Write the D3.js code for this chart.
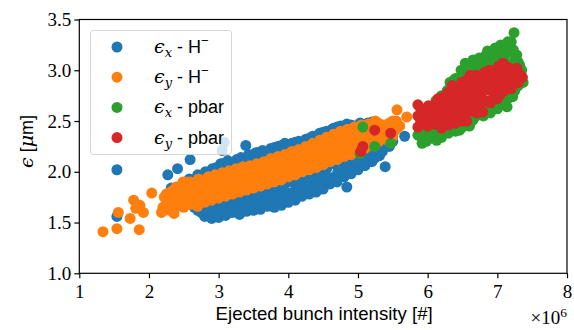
<!DOCTYPE html>
<html>
<head>
<meta charset="utf-8">
<script src="https://cdn.jsdelivr.net/npm/d3@7"></script>
<style>
  html, body { margin: 0; padding: 0; background: #fff; }
  svg { display: block; }
</style>
</head>
<body>
<svg id="chart" width="574" height="330"></svg>
<script>
// Intensity in units of 1e6 particles, emittance in µm.
const xTicks = [1, 2, 3, 4, 5, 6, 7, 8];
const yTicks = [1.0, 1.5, 2.0, 2.5, 3.0, 3.5];
const yTickLabels = ["1.0", "1.5", "2.0", "2.5", "3.0", "3.5"];

// eps_x, H-
const epsXHminus = [
  [1.54,2.02],[1.54,1.56],[2.27,1.97],[2.32,1.84],[2.41,2.03],[2.59,2.12],[3.05,2.21],[3.08,2.29],[3.39,2.26],
  [2.6,1.68],[2.6,1.78],[2.62,1.88],[2.58,1.93],
  [2.65,1.65],[2.65,1.75],[2.66,1.83],[2.64,1.92],
  [2.7,1.62],[2.72,1.72],[2.68,1.85],[2.7,1.97],
  [2.75,1.6],[2.75,1.69],[2.76,1.78],[2.74,1.88],[2.75,1.96],
  [2.8,1.56],[2.78,1.66],[2.82,1.8],[2.79,1.95],[2.81,2.0],
  [2.85,1.58],[2.85,1.68],[2.86,1.77],[2.84,1.86],[2.85,1.96],
  [2.9,1.54],[2.88,1.63],[2.92,1.75],[2.9,1.9],[2.91,2.03],
  [2.95,1.58],[2.95,1.67],[2.96,1.78],[2.94,1.88],[2.95,1.96],[2.96,2.04],
  [3.0,1.55],[3.02,1.62],[2.98,1.72],[3.01,1.85],[2.99,1.98],[3.03,2.08],
  [3.05,1.58],[3.05,1.67],[3.06,1.78],[3.04,1.9],[3.05,2.0],[3.06,2.08],
  [3.1,1.57],[3.12,1.66],[3.09,1.78],[3.11,1.92],[3.1,2.06],[3.13,2.11],
  [3.15,1.6],[3.15,1.72],[3.16,1.84],[3.14,1.98],[3.15,2.08],
  [3.2,1.6],[3.18,1.68],[3.21,1.8],[3.2,1.95],[3.22,2.1],
  [3.25,1.62],[3.25,1.73],[3.26,1.86],[3.24,1.97],[3.25,2.05],[3.26,2.12],
  [3.3,1.58],[3.31,1.66],[3.29,1.76],[3.3,2.0],[3.32,2.14],
  [3.35,1.63],[3.35,1.75],[3.36,1.88],[3.34,2.05],[3.35,2.13],
  [3.4,1.61],[3.42,1.7],[3.39,1.82],[3.41,1.97],[3.43,2.17],
  [3.45,1.64],[3.45,1.76],[3.46,1.9],[3.44,2.02],[3.45,2.11],[3.46,2.16],
  [3.5,1.62],[3.51,1.72],[3.49,1.86],[3.5,2.05],[3.52,2.18],
  [3.55,1.67],[3.55,1.8],[3.56,1.95],[3.54,2.12],[3.55,2.19],
  [3.6,1.63],[3.62,1.75],[3.59,1.88],[3.61,2.1],[3.63,2.21],
  [3.65,1.69],[3.65,1.81],[3.66,1.96],[3.64,2.02],[3.65,2.15],[3.66,2.2],
  [3.7,1.66],[3.71,1.74],[3.69,1.9],[3.7,2.08],[3.72,2.2],
  [3.75,1.7],[3.75,1.84],[3.76,1.98],[3.74,2.16],[3.75,2.23],
  [3.8,1.65],[3.82,1.78],[3.79,1.92],[3.81,2.12],[3.8,2.24],
  [3.85,1.72],[3.85,1.86],[3.86,2.02],[3.84,2.2],[3.85,2.25],
  [3.9,1.67],[3.91,1.8],[3.89,1.95],[3.92,2.15],[3.9,2.26],
  [3.95,1.74],[3.95,1.88],[3.96,2.05],[3.94,2.22],[3.95,2.28],
  [4.0,1.7],[4.02,1.79],[3.99,1.97],[4.01,2.18],[4.03,2.27],
  [4.05,1.76],[4.05,1.9],[4.06,2.08],[4.04,2.23],[4.05,2.28],
  [4.1,1.72],[4.11,1.83],[4.09,2.0],[4.12,2.2],[4.1,2.29],
  [4.15,1.79],[4.15,1.93],[4.16,2.1],[4.14,2.25],[4.15,2.3],
  [4.2,1.76],[4.22,1.86],[4.19,2.02],[4.21,2.22],[4.24,2.3],
  [4.25,1.82],[4.25,1.96],[4.26,2.13],[4.24,2.28],[4.25,2.32],
  [4.3,1.78],[4.31,1.9],[4.29,2.05],[4.32,2.25],[4.3,2.33],
  [4.35,1.84],[4.35,1.98],[4.36,2.15],[4.34,2.3],[4.35,2.35],
  [4.4,1.8],[4.42,1.92],[4.39,2.08],[4.41,2.28],[4.43,2.36],
  [4.45,1.87],[4.45,2.0],[4.46,2.2],[4.44,2.34],[4.45,2.38],
  [4.5,1.83],[4.51,1.95],[4.49,2.12],[4.52,2.31],[4.5,2.39],
  [4.55,1.9],[4.55,2.03],[4.56,2.22],[4.54,2.37],[4.55,2.4],
  [4.6,1.88],[4.62,1.94],[4.59,2.15],[4.61,2.35],[4.63,2.42],
  [4.65,1.94],[4.65,2.08],[4.66,2.26],[4.64,2.4],[4.65,2.43],
  [4.7,1.9],[4.71,2.0],[4.69,2.18],[4.72,2.38],[4.7,2.44],
  [4.75,1.96],[4.75,2.1],[4.76,2.3],[4.74,2.42],[4.75,2.45],
  [4.84,1.85],[4.8,1.95],[4.82,2.02],[4.79,2.2],[4.81,2.4],[4.84,2.47],
  [4.85,2.0],[4.85,2.12],[4.86,2.32],[4.84,2.44],
  [4.9,1.98],[4.91,2.06],[4.89,2.25],[4.92,2.42],[4.9,2.46],
  [4.95,2.04],[4.95,2.16],[4.96,2.36],[4.94,2.45],
  [5.0,2.02],[5.02,2.1],[4.99,2.3],[5.01,2.44],[5.03,2.48],
  [5.05,2.08],[5.05,2.2],[5.06,2.38],[5.04,2.47],
  [5.1,2.06],[5.12,2.15],[5.09,2.35],[5.11,2.46],
  [5.15,2.12],[5.15,2.26],[5.16,2.4],[5.14,2.48],
  [5.2,2.1],[5.19,2.2],[5.21,2.38],[5.2,2.49],
  [5.25,2.14],[5.25,2.3],[5.26,2.45],
  [5.31,2.16],[5.3,2.25],[5.29,2.44],[5.33,2.42],
  [5.35,2.2],[5.35,2.35],[5.36,2.44],
  [5.39,2.05],[5.4,2.3],[5.42,2.42],
  [5.45,2.25],[5.45,2.36],
  [5.5,2.3],[5.52,2.4],[5.67,2.35]
];

// eps_y, H-
const epsYHminus = [
  [1.34,1.41],[1.54,1.44],[1.86,1.43],[1.56,1.6],[1.73,1.54],[1.78,1.72],[1.92,1.6],[1.87,1.67],[1.81,1.64],
  [2.04,1.79],[2.18,1.6],[2.36,1.59],[2.49,1.9],
  [2.2,1.65],[2.22,1.75],[2.25,1.68],[2.25,1.78],
  [2.3,1.62],[2.28,1.7],[2.31,1.8],[2.35,1.65],[2.35,1.72],[2.35,1.82],
  [2.4,1.66],[2.42,1.75],[2.39,1.85],[2.45,1.68],[2.45,1.78],[2.45,1.86],
  [2.5,1.65],[2.52,1.72],[2.49,1.82],[2.51,1.88],[2.55,1.7],[2.55,1.8],[2.55,1.9],
  [2.6,1.68],[2.62,1.78],[2.59,1.9],[2.65,1.7],[2.65,1.8],[2.65,1.88],
  [2.7,1.66],[2.72,1.75],[2.69,1.85],[2.71,1.93],[2.75,1.72],[2.75,1.82],[2.75,1.92],
  [2.8,1.7],[2.82,1.8],[2.79,1.9],[2.85,1.74],[2.85,1.85],[2.85,1.95],
  [2.9,1.72],[2.91,1.82],[2.89,1.94],[2.95,1.77],[2.95,1.88],[2.95,1.97],
  [3.0,1.74],[3.02,1.84],[2.99,1.95],[3.05,1.79],[3.05,1.9],[3.05,1.99],
  [3.1,1.76],[3.11,1.86],[3.09,1.97],[3.15,1.81],[3.15,1.92],[3.15,2.01],
  [3.2,1.78],[3.21,1.88],[3.19,2.0],[3.25,1.83],[3.25,1.94],[3.25,2.03],
  [3.3,1.8],[3.31,1.9],[3.29,2.01],[3.35,1.85],[3.35,1.96],[3.35,2.05],
  [3.4,1.82],[3.41,1.92],[3.39,2.03],[3.45,1.87],[3.45,1.98],[3.45,2.06],
  [3.5,1.84],[3.51,1.94],[3.49,2.05],[3.55,1.89],[3.55,2.0],[3.55,2.08],
  [3.6,1.86],[3.61,1.97],[3.59,2.07],[3.65,1.91],[3.65,2.02],[3.65,2.1],
  [3.7,1.88],[3.71,1.99],[3.69,2.1],[3.75,1.93],[3.75,2.05],[3.75,2.13],
  [3.8,1.9],[3.81,2.01],[3.79,2.12],[3.85,1.95],[3.85,2.07],[3.85,2.15],
  [3.9,1.92],[3.91,2.03],[3.89,2.14],[3.95,1.98],[3.95,2.1],[3.95,2.17],
  [4.0,1.95],[4.01,2.06],[3.99,2.16],[4.05,2.0],[4.05,2.12],[4.05,2.2],
  [4.1,1.97],[4.11,2.08],[4.09,2.19],[4.15,2.02],[4.15,2.14],[4.15,2.22],
  [4.2,2.0],[4.21,2.1],[4.19,2.21],[4.25,2.05],[4.25,2.17],[4.25,2.25],
  [4.3,2.02],[4.31,2.13],[4.29,2.24],[4.35,2.08],[4.35,2.2],[4.35,2.28],
  [4.4,2.04],[4.41,2.15],[4.39,2.27],[4.45,2.1],[4.45,2.22],[4.45,2.31],
  [4.5,2.07],[4.51,2.18],[4.49,2.3],[4.55,2.13],[4.55,2.25],[4.55,2.34],
  [4.6,2.1],[4.61,2.2],[4.59,2.33],[4.65,2.16],[4.65,2.28],[4.65,2.37],
  [4.7,2.12],[4.71,2.24],[4.69,2.36],[4.75,2.18],[4.75,2.3],[4.75,2.4],
  [4.8,2.15],[4.81,2.27],[4.79,2.39],[4.85,2.21],[4.85,2.33],[4.85,2.42],
  [4.9,2.17],[4.91,2.3],[4.89,2.41],[4.95,2.24],[4.95,2.36],[4.95,2.44],
  [5.0,2.2],[5.01,2.32],[4.99,2.43],[5.05,2.27],[5.05,2.38],[5.05,2.46],
  [5.1,2.23],[5.11,2.35],[5.09,2.45],[5.15,2.3],[5.15,2.41],[5.15,2.47],
  [5.2,2.26],[5.21,2.38],[5.19,2.47],[5.25,2.33],[5.25,2.43],[5.25,2.5],
  [5.3,2.3],[5.31,2.4],[5.29,2.48],[5.35,2.36],[5.35,2.46],
  [5.4,2.32],[5.41,2.44],[5.45,2.4],[5.45,2.48],
  [5.5,2.35],[5.49,2.45],[5.55,2.42],[5.55,2.5],
  [5.39,2.44],[5.45,2.32],[5.6,2.45],[5.5,2.5],[5.56,2.61],[5.7,2.54]
];

// eps_x, pbar
const epsXPbar = [
  [5.07,2.44],[5.47,2.28],[5.24,2.25],[5.03,2.18],
  [5.86,2.36],[5.92,2.28],[6.03,2.41],[6.13,2.31],[5.95,2.5],[6.0,2.35],[5.9,2.4],[5.98,2.3],[6.05,2.33],
  [6.1,2.6],[6.12,2.7],[6.2,2.34],[6.22,2.45],[6.2,2.75],[6.1,2.45],[6.15,2.38],[6.18,2.5],[6.15,2.62],[6.05,2.55],
  [6.3,2.38],[6.28,2.8],[6.32,2.88],[6.37,2.9],[6.3,2.6],[6.25,2.4],[6.25,2.7],[6.35,2.45],[6.35,2.8],
  [6.4,2.4],[6.42,2.5],[6.4,2.92],[6.46,2.41],[6.4,2.8],[6.45,2.48],[6.45,2.88],
  [6.5,2.44],[6.52,2.98],[6.48,3.0],[6.54,3.07],[6.5,2.85],[6.55,2.5],[6.55,2.95],
  [6.6,2.45],[6.62,2.55],[6.58,3.02],[6.65,2.51],[6.65,3.1],[6.6,2.9],[6.6,2.7],[6.65,3.0],
  [6.7,2.55],[6.72,3.08],[6.74,3.12],[6.7,2.95],[6.68,2.6],[6.75,2.6],[6.75,3.03],
  [6.8,2.55],[6.82,2.62],[6.78,3.12],[6.84,3.15],[6.89,3.15],[6.8,3.0],[6.8,2.8],[6.85,2.6],[6.85,3.08],[6.86,3.19],
  [6.9,2.58],[6.92,2.65],[6.94,3.18],[6.9,3.05],[6.95,2.62],[6.95,3.12],[6.97,3.22],
  [7.0,2.62],[7.02,2.68],[6.98,3.2],[7.08,3.22],[7.0,3.1],[7.05,2.66],[7.05,3.15],[7.05,3.25],
  [7.1,2.68],[7.12,2.75],[7.1,3.24],[7.14,2.64],[7.1,3.12],[7.15,2.72],[7.15,3.18],[7.15,3.28],
  [7.2,2.74],[7.18,2.85],[7.2,3.2],[7.22,2.74],[7.23,3.2],[7.24,3.37],[7.2,3.05],[7.2,3.28],[7.25,2.8],[7.25,3.1],
  [7.3,2.85],[7.32,3.05],[7.28,3.15],[7.37,2.88],[7.3,2.95],[7.33,2.92],[7.35,3.0],[7.3,3.08]
];

// eps_y, pbar
const epsYPbar = [
  [5.24,2.41],[5.47,2.38],[5.07,2.25],[5.04,2.2],
  [5.86,2.44],[5.86,2.55],[5.86,2.66],[5.95,2.48],[5.95,2.6],[5.9,2.5],[5.9,2.62],
  [6.0,2.45],[6.02,2.55],[6.01,2.65],[6.05,2.5],[6.05,2.6],
  [6.1,2.47],[6.1,2.58],[6.12,2.68],[6.15,2.52],[6.15,2.62],[6.15,2.72],
  [6.2,2.43],[6.2,2.55],[6.21,2.65],[6.19,2.73],[6.25,2.5],[6.25,2.62],[6.25,2.74],
  [6.3,2.46],[6.3,2.6],[6.32,2.7],[6.29,2.78],[6.35,2.85],[6.35,2.55],[6.35,2.66],[6.35,2.76],
  [6.4,2.48],[6.41,2.62],[6.4,2.72],[6.42,2.82],[6.45,2.56],[6.45,2.68],[6.45,2.8],
  [6.5,2.5],[6.5,2.65],[6.52,2.75],[6.49,2.88],[6.55,2.58],[6.55,2.7],[6.55,2.82],[6.55,2.9],
  [6.56,2.5],[6.6,2.6],[6.61,2.7],[6.6,2.8],[6.61,2.95],[6.65,2.62],[6.65,2.75],[6.65,2.88],
  [6.7,2.58],[6.7,2.72],[6.72,2.84],[6.7,2.95],[6.75,2.65],[6.75,2.78],[6.75,2.9],
  [6.79,2.59],[6.8,2.7],[6.81,2.8],[6.8,2.9],[6.82,2.98],[6.85,2.7],[6.85,2.84],[6.85,2.95],
  [6.89,3.0],[6.9,2.68],[6.91,2.8],[6.9,2.92],[6.95,2.74],[6.95,2.86],[6.95,2.97],
  [7.0,2.72],[7.01,2.84],[7.0,2.95],[7.02,3.04],[7.05,2.8],[7.05,2.92],[7.05,3.02],
  [7.04,2.76],[7.08,3.07],[7.08,2.85],
  [7.1,2.8],[7.12,2.92],[7.1,3.0],[7.15,2.84],[7.15,2.95],[7.15,3.03],
  [7.2,2.82],[7.2,2.92],[7.22,3.0],[7.25,2.88],[7.25,2.97],
  [7.28,3.02],[7.3,2.88],[7.3,2.97],[7.33,2.95],[7.36,2.93]
];

const seriesColors = ["#1f77b4", "#ff7f0e", "#2ca02c", "#d62728"];
const seriesData = [epsXHminus, epsYHminus, epsXPbar, epsYPbar];

const plot = { left: 79.3, right: 567, top: 19.5, bottom: 273.3 };
const sansFont = '"Liberation Sans", Arial, sans-serif';
const serifFont = '"Liberation Serif", "DejaVu Serif", serif';
const mathFont = '"DejaVu Serif", "Liberation Serif", serif';

const svg = d3.select("#chart");

const x = d3.scaleLinear().domain([1, 8]).range([plot.left, plot.right]);
const y = d3.scaleLinear().domain([1, 3.5]).range([plot.bottom, plot.top]);

// scatter layers, drawn in series order
const r = 5.5;
seriesData.forEach((pts, i) => {
  svg.append("g")
    .selectAll("circle")
    .data(pts)
    .join("circle")
    .attr("cx", d => x(d[0]))
    .attr("cy", d => y(d[1]))
    .attr("r", r)
    .attr("fill", seriesColors[i]);
});

// axes
const xAxis = svg.append("g")
  .attr("transform", `translate(0,${plot.bottom})`)
  .call(d3.axisBottom(x).tickValues(xTicks).tickFormat(d3.format("d")).tickSize(5).tickSizeOuter(0).tickPadding(6));
const yAxis = svg.append("g")
  .attr("transform", `translate(${plot.left},0)`)
  .call(d3.axisLeft(y).tickValues(yTicks).tickFormat((d, i) => yTickLabels[i]).tickSize(5).tickSizeOuter(0).tickPadding(3));

[xAxis, yAxis].forEach(a => {
  a.select(".domain").remove();
  a.selectAll(".tick line").attr("stroke", "#000").attr("stroke-width", 1.2);
  a.selectAll(".tick text").attr("fill", "#000").attr("font-size", 19).attr("font-family", serifFont);
});

// frame
svg.append("rect")
  .attr("x", plot.left).attr("y", plot.top)
  .attr("width", plot.right - plot.left).attr("height", plot.bottom - plot.top)
  .attr("fill", "none").attr("stroke", "#000").attr("stroke-width", 1.2);

// x label
svg.append("text")
  .attr("x", (plot.left + plot.right) / 2 + 1).attr("y", 320)
  .attr("text-anchor", "middle")
  .attr("font-family", sansFont).attr("font-size", 18.6)
  .text("Ejected bunch intensity [#]");

// offset multiplier
const off = svg.append("text")
  .attr("x", plot.right).attr("y", 324)
  .attr("text-anchor", "end")
  .attr("font-family", serifFont).attr("font-size", 19);
off.append("tspan").text("×10");
off.append("tspan").attr("dy", -7).attr("font-size", 13.5).text("6");

// y label
const yl = svg.append("text")
  .attr("transform", `translate(33,${(plot.top + plot.bottom) / 2 - 5}) rotate(-90)`)
  .attr("text-anchor", "middle")
  .attr("font-size", 19);
yl.append("tspan").attr("font-family", mathFont).attr("font-style", "italic").text("ϵ");
yl.append("tspan").attr("font-family", sansFont).attr("font-size", 18).text(" [");
yl.append("tspan").attr("font-family", mathFont).attr("font-style", "italic").text("μ");
yl.append("tspan").attr("font-family", sansFont).attr("font-size", 18).text("m]");

// legend
const leg = svg.append("g");
leg.append("rect")
  .attr("x", 90.5).attr("y", 30.5).attr("width", 141).attr("height", 124)
  .attr("rx", 3)
  .attr("fill", "#fff").attr("fill-opacity", 0.8)
  .attr("stroke", "#cccccc").attr("stroke-opacity", 0.8).attr("stroke-width", 1);

const legendRows = [
  { sub: "x", tail: "H", sup: true },
  { sub: "y", tail: "H", sup: true },
  { sub: "x", tail: "pbar", sup: false },
  { sub: "y", tail: "pbar", sup: false }
];
legendRows.forEach((row, i) => {
  const cy = 47 + i * 30.2;
  leg.append("circle").attr("cx", 117).attr("cy", cy).attr("r", r).attr("fill", seriesColors[i]);
  const t = leg.append("text").attr("x", 154).attr("y", cy + 6).attr("font-size", 19);
  t.append("tspan").attr("font-family", mathFont).attr("font-style", "italic").text("ϵ");
  t.append("tspan").attr("font-family", mathFont).attr("font-style", "italic")
    .attr("font-size", 13).attr("dy", 4).text(row.sub);
  t.append("tspan").attr("font-family", sansFont).attr("font-size", 18).attr("dy", -4).text(" - " + row.tail);
  if (row.sup) {
    t.append("tspan").attr("font-family", sansFont).attr("font-size", 13).attr("dy", -8).text("−");
  }
});
</script>
</body>
</html>
